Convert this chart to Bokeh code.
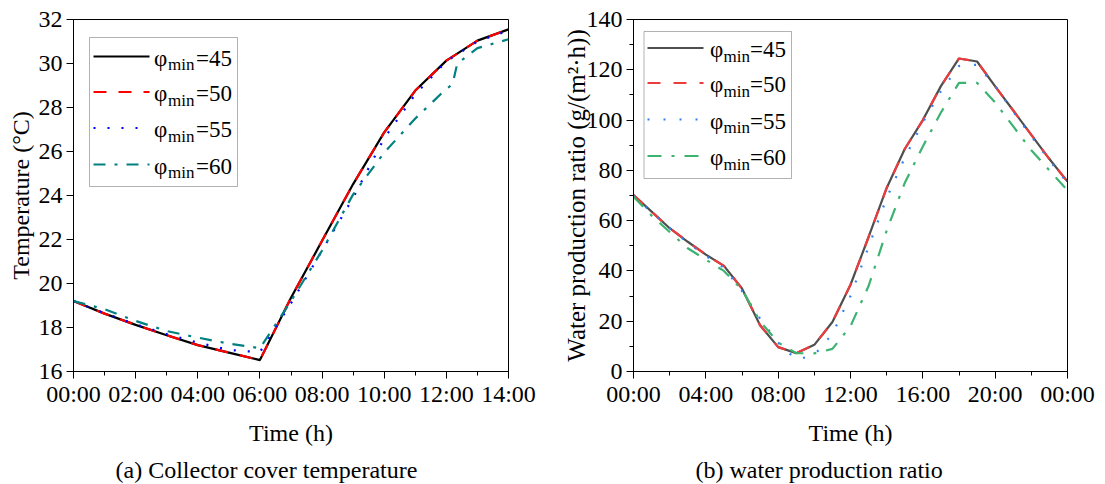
from bokeh.plotting import figure
from bokeh.layouts import row
from bokeh.models import FixedTicker, Label, BoxAnnotation, Arrow, Title, Range1d
from bokeh.embed import file_html
from bokeh.resources import INLINE

FONT = "Liberation Serif"

# ---------------- (a) Collector cover temperature ----------------
hours_a = [0, 1, 2, 3, 4, 5, 6, 7, 8, 9, 10, 11, 12, 13, 14]
temp_45 = [19.2, 18.63, 18.12, 17.65, 17.2, 16.86, 16.52, 19.35, 21.94, 24.52, 26.87, 28.77, 30.13, 31.04, 31.55]
temp_50 = [19.2, 18.63, 18.12, 17.65, 17.2, 16.86, 16.52, 19.35, 21.94, 24.52, 26.87, 28.77, 30.13, 31.04, 31.55]
temp_55 = [19.2, 18.65, 18.15, 17.7, 17.31, 16.98, 16.88, 19.1, 21.5, 23.9, 26.6, 28.6, 30.1, 31.0, 31.5]
hours_a60 = [0, 1, 2, 3, 4, 5, 6, 7, 8, 9, 10, 11, 12, 12.2, 12.35, 13, 14]
temp_60 = [19.2, 18.83, 18.3, 17.84, 17.54, 17.27, 17.06, 19.2, 21.5, 24.05, 25.95, 27.5, 28.85, 29.05, 30.0, 30.7, 31.1]
ticks_a = [0, 2, 4, 6, 8, 10, 12, 14]
tick_labels_a = ["00:00", "02:00", "04:00", "06:00", "08:00", "10:00", "12:00", "14:00"]
minor_a = list(range(0, 15))
yticks_a = [16, 18, 20, 22, 24, 26, 28, 30, 32]

# ---------------- (b) water production ratio ----------------
hours_b = list(range(0, 25))
water_45 = [70.2, 63.6, 57.0, 51.6, 46.5, 42.0, 33.0, 18.4, 9.7, 7.3, 10.6, 19.7, 34.5, 53.5, 73.0,
            88.5, 100.0, 113.5, 124.5, 123.3, 113.4, 103.8, 94.1, 84.5, 75.5]
water_50 = [70.2, 63.6, 57.0, 51.6, 46.5, 42.0, 33.0, 18.4, 9.7, 7.3, 10.6, 19.7, 34.5, 53.5, 73.0,
            88.5, 100.0, 113.5, 124.5, 123.3, 113.4, 103.8, 94.1, 84.5, 75.5]
water_55 = [69.8, 63.3, 57.0, 51.3, 46.0, 41.3, 32.0, 21.0, 11.5, 4.7, 6.5, 15.0, 30.0, 49.6, 69.0,
            85.0, 99.0, 111.5, 121.5, 122.0, 113.5, 103.3, 93.5, 84.0, 75.0]
water_60 = [69.5, 62.0, 55.5, 49.0, 44.5, 40.0, 32.5, 20.0, 11.5, 7.3, 7.2, 9.0, 18.0, 34.0, 56.0,
            75.0, 89.5, 103.0, 114.8, 114.8, 107.0, 97.5, 88.0, 80.0, 72.0]
ticks_b = [0, 4, 8, 12, 16, 20, 24]
tick_labels_b = ["00:00", "04:00", "08:00", "12:00", "16:00", "20:00", "00:00"]
minor_b = list(range(0, 25, 2))
yticks_b = [0, 20, 40, 60, 80, 100, 120, 140]
yminor_b = list(range(0, 141, 10))

phi_values = ["45", "50", "55", "60"]

colors_a = ["#000000", "#FF0000", "#0000FF", "#008080"]
dashes_a = ["solid", "13 12", "2 12", "12 9 3 9"]
colors_b = ["#4F4F4F", "#EE3B3B", "#2F80ED", "#3CB371"]
dashes_b = ["solid", "13 13", "2 14", "14 10 3 10"]


def style(p, xlabel, ylabel, caption, ylabel_size, ylabel_standoff, caption_offset):
    p.outline_line_color = "black"
    p.outline_line_width = 1
    p.background_fill_color = "white"
    p.border_fill_color = "white"
    p.xgrid.grid_line_color = None
    p.ygrid.grid_line_color = None
    for ax in (p.xaxis[0], p.yaxis[0]):
        ax.axis_line_color = "black"
        ax.axis_line_width = 1
        ax.major_tick_line_color = "black"
        ax.minor_tick_line_color = "black"
        ax.major_tick_in = 0
        ax.major_tick_out = 7
        ax.minor_tick_in = 0
        ax.minor_tick_out = 4
        ax.major_label_text_font = FONT
        ax.major_label_text_font_size = "24px"
        ax.major_label_text_color = "black"
        ax.axis_label_text_font = FONT
        ax.axis_label_text_font_size = "24px"
        ax.axis_label_text_font_style = "normal"
        ax.axis_label_text_color = "black"
    p.xaxis.axis_label = xlabel
    p.yaxis.axis_label = ylabel
    p.yaxis.axis_label_text_font_size = ylabel_size
    p.xaxis.major_label_standoff = 2
    p.xaxis.axis_label_standoff = 10
    p.yaxis.major_label_standoff = 4
    p.yaxis.axis_label_standoff = ylabel_standoff
    p.add_layout(Title(text=caption, align="left", text_font=FONT, text_font_size="24px",
                       text_font_style="normal", text_color="black", standoff=12,
                       offset=caption_offset), "below")


def legend(p, box, rows, x_line, x_phi, x_min, x_eq, colors, dashes):
    p.add_layout(BoxAnnotation(left=box[0], right=box[1], bottom=box[2], top=box[3],
                               left_units="screen", right_units="screen",
                               top_units="screen", bottom_units="screen",
                               fill_color="white", fill_alpha=1.0,
                               line_color="black", line_width=1))
    for yc, c, d, v in zip(rows, colors, dashes, phi_values):
        p.add_layout(Arrow(x_start=x_line[0], y_start=yc, x_end=x_line[1], y_end=yc,
                           start_units="screen", end_units="screen", end=None,
                           line_color=c, line_width=2.2, line_dash=d))
        p.add_layout(Label(x=x_phi, y=yc - 1.5, x_units="screen", y_units="screen", text="φ",
                           text_font=FONT, text_font_size="23px", text_baseline="alphabetic",
                           text_color="black"))
        p.add_layout(Label(x=x_min, y=yc - 8, x_units="screen", y_units="screen", text="min",
                           text_font=FONT, text_font_size="17px", text_baseline="alphabetic",
                           text_color="black"))
        p.add_layout(Label(x=x_eq, y=yc - 1.5, x_units="screen", y_units="screen", text="=" + v,
                           text_font=FONT, text_font_size="23px", text_baseline="alphabetic",
                           text_color="black"))


# ---------- figure a ----------
pa = figure(frame_width=435, frame_height=352, min_border_left=73, min_border_right=51,
            min_border_top=19, min_border_bottom=113, toolbar_location=None,
            output_backend="svg", x_range=Range1d(0, 14), y_range=Range1d(16, 32))
style(pa, "Time (h)", "Temperature (°C)", "(a) Collector cover temperature", "24px", 2, 42)
pa.xaxis.ticker = FixedTicker(ticks=ticks_a, minor_ticks=minor_a)
pa.xaxis.major_label_overrides = {t: l for t, l in zip(ticks_a, tick_labels_a)}
pa.yaxis.ticker = FixedTicker(ticks=yticks_a, minor_ticks=[])

series_a = [(hours_a, temp_45), (hours_a, temp_50), (hours_a, temp_55), (hours_a60, temp_60)]
for (xs, ys), c, d in zip(series_a, colors_a, dashes_a):
    pa.line(xs, ys, line_color=c, line_width=2.2, line_dash=d)

legend(pa, (16, 164, 185, 334), [315, 279.5, 243.5, 207], (20, 76), 80.5, 94.5, 122.5,
       colors_a, dashes_a)

# ---------- figure b ----------
pb = figure(frame_width=434, frame_height=352, min_border_left=73, min_border_right=31,
            min_border_top=19, min_border_bottom=113, toolbar_location=None,
            output_backend="svg", x_range=Range1d(0, 24), y_range=Range1d(0, 140))
style(pb, "Time (h)", "Water production ratio (g/(m²·h))", "(b) water production ratio", "25px", -6, 62)
pb.xaxis.ticker = FixedTicker(ticks=ticks_b, minor_ticks=minor_b)
pb.xaxis.major_label_overrides = {t: l for t, l in zip(ticks_b, tick_labels_b)}
pb.yaxis.ticker = FixedTicker(ticks=yticks_b, minor_ticks=yminor_b)

series_b = [water_45, water_50, water_55, water_60]
for ys, c, d in zip(series_b, colors_b, dashes_b):
    pb.line(hours_b, ys, line_color=c, line_width=2.2, line_dash=d)

legend(pb, (10.5, 158, 193, 340), [323.5, 288.5, 252, 215.5], (14, 70), 76.5, 90, 116.5,
       colors_b, dashes_b)

layout = row(pa, pb)
open("out.html", "w").write(file_html(layout, INLINE))
